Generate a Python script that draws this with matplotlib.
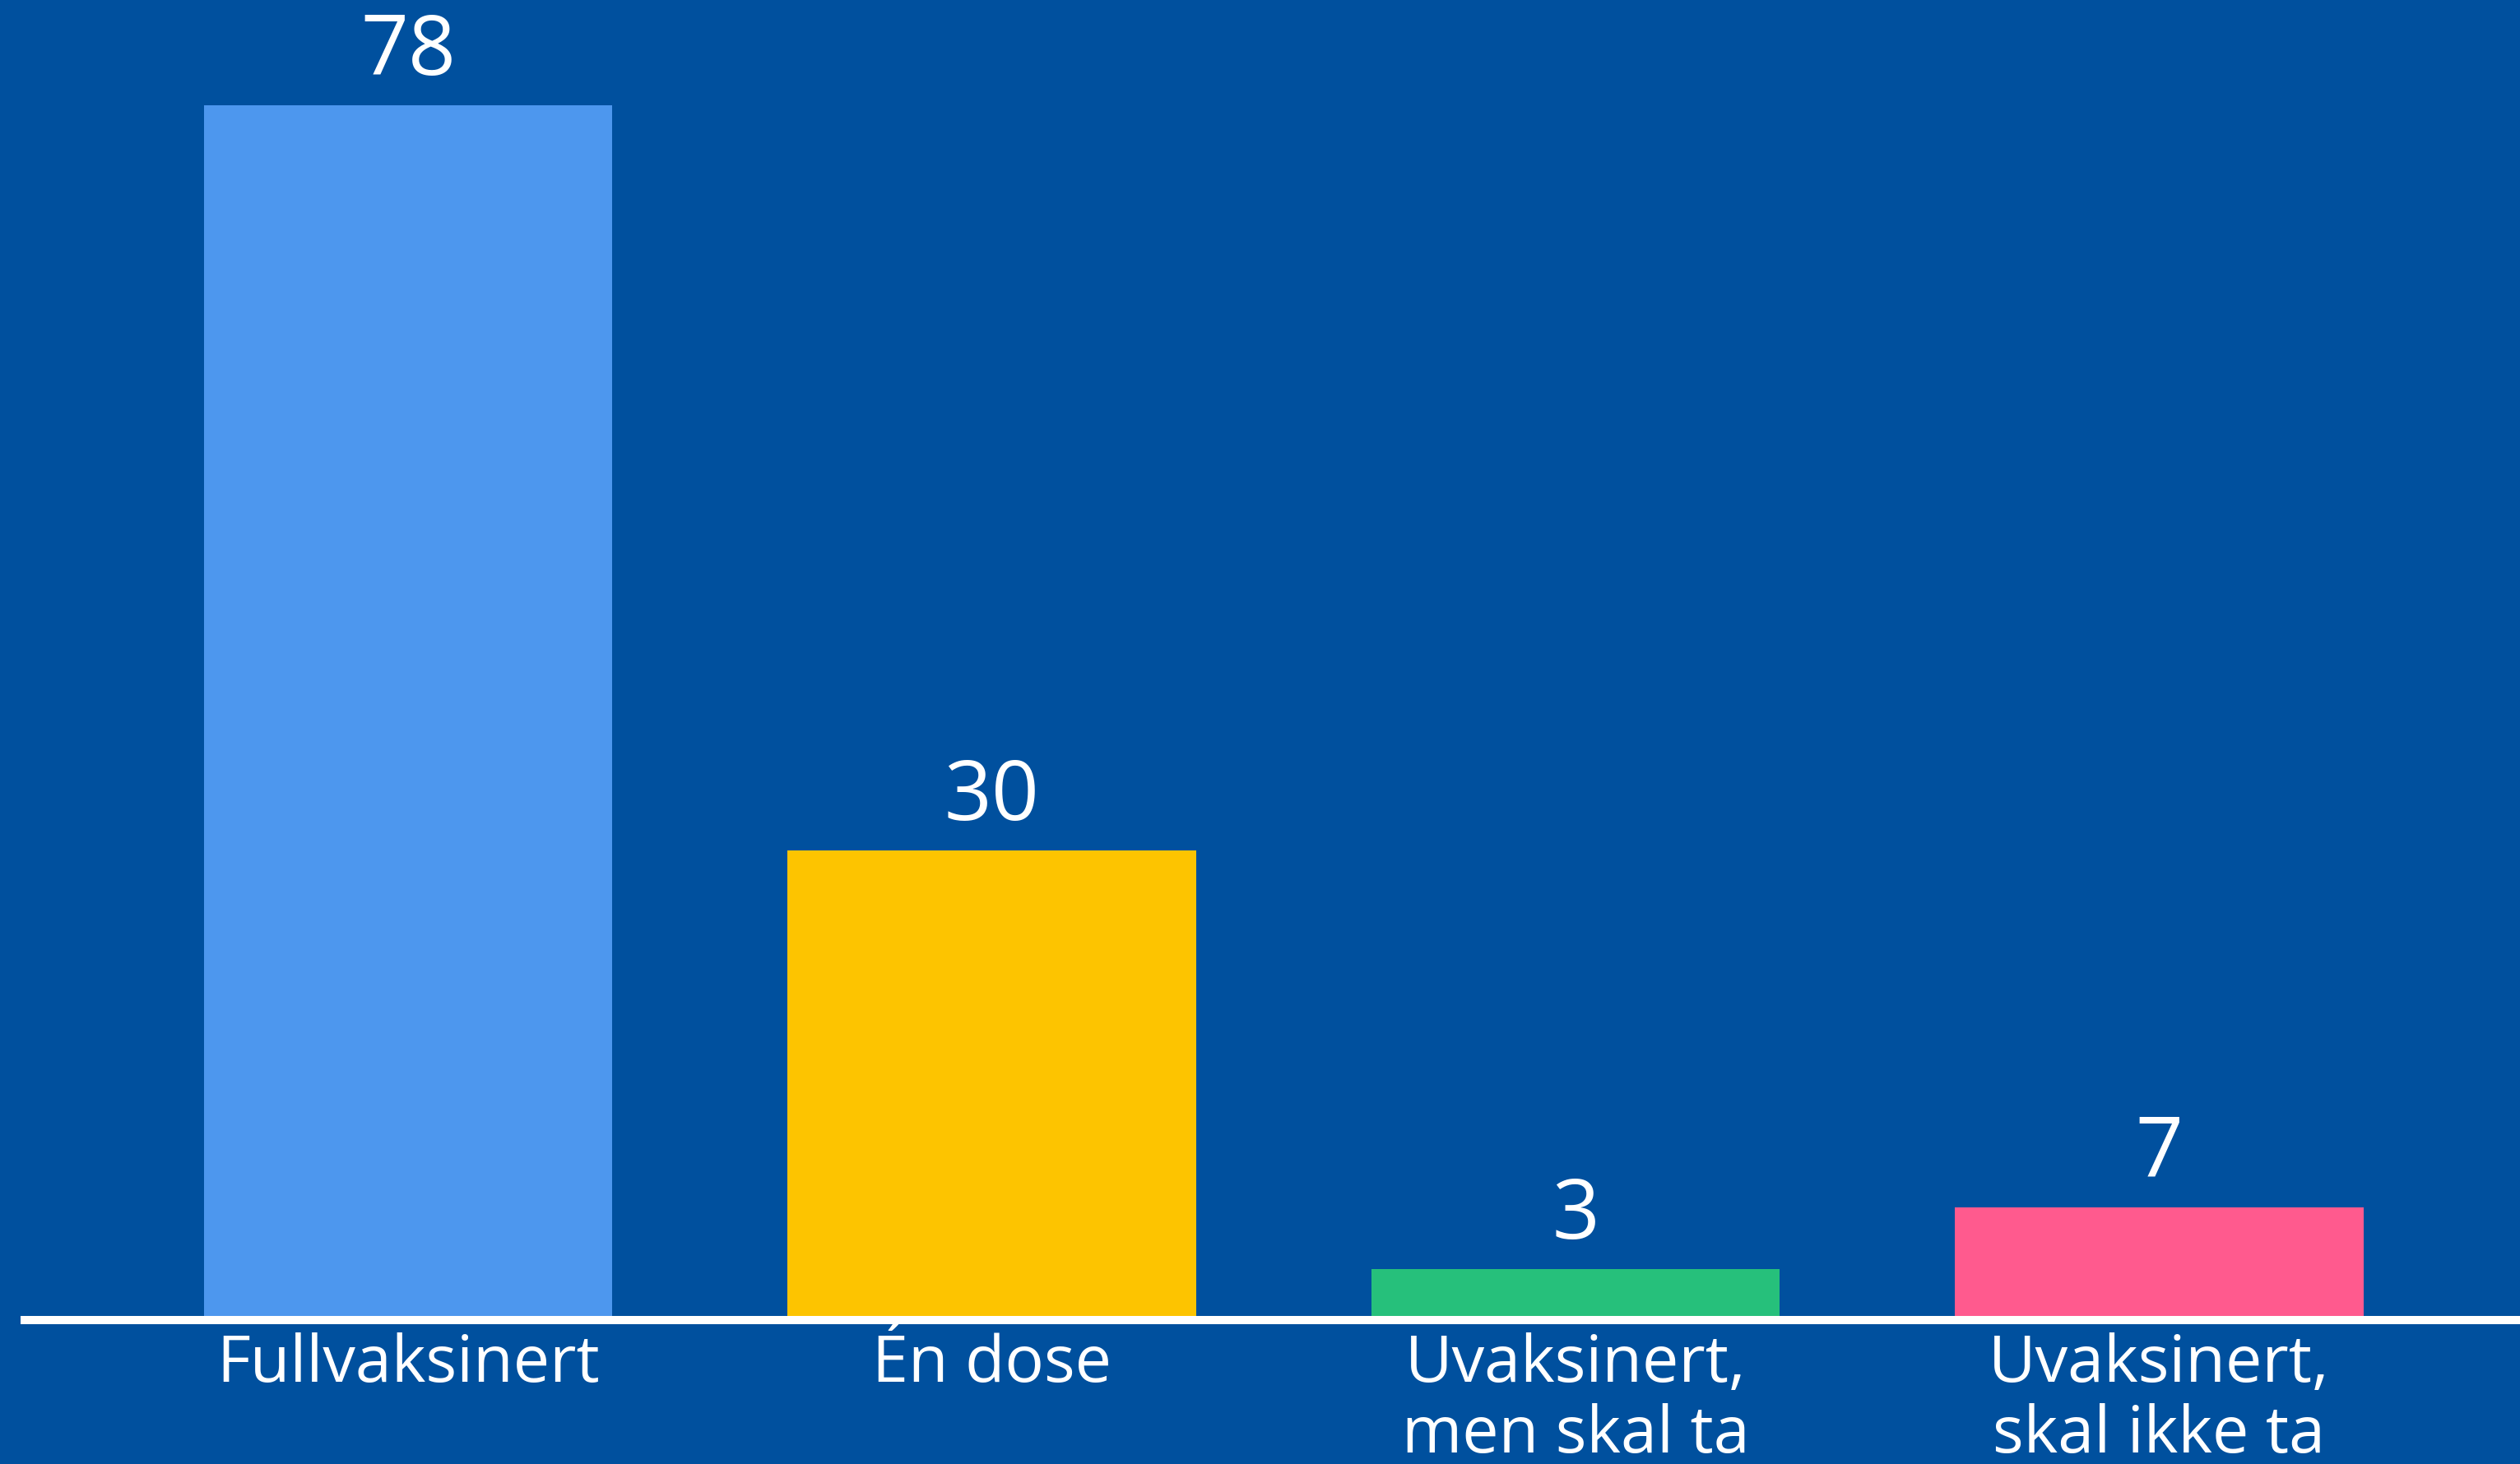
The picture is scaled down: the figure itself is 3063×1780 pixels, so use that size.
import matplotlib
matplotlib.use("Agg")
import matplotlib.pyplot as plt

categories = ["Fullvaksinert", "Én dose", "Uvaksinert,\nmen skal ta", "Uvaksinert,\nskal ikke ta"]
values = [78, 30, 3, 7]
bar_colors = ["#4D97EE", "#FDC400", "#26C07B", "#FF5A8E"]
bg = "#00509E"

plt.rcParams['font.family'] = ['Open Sans', 'DejaVu Sans']

fig = plt.figure(figsize=(30.63, 17.8), dpi=100, facecolor=bg)
# zero line sits 180 px above the bottom edge
ax = fig.add_axes([0, 180 / 1780, 1, 1600 / 1780])
ax.set_facecolor(bg)

x = range(len(values))
bars = ax.bar(x, values, width=0.7, color=bar_colors, zorder=2)

ppu = 1472 / 78  # pixels per unit
ax.set_ylim(0, 1600 / ppu)
ax.set_xlim(-496 / 709.5, (3063 - 496) / 709.5)

ax.axhline(-5 / ppu, xmin=30 / 3063, xmax=1, color="white", linewidth=7.2, zorder=3, clip_on=False)

for b, v in zip(bars, values):
    ax.text(b.get_x() + b.get_width() / 2, v + 37 / ppu, str(v), ha="center", va="baseline",
            color="white", fontsize=73)

for i, c in enumerate(categories):
    ax.text(i, -20 / ppu, c, ha="center", va="top", color="white", fontsize=57,
            linespacing=1.12)

ax.set_xticks([])
ax.set_yticks([])
for s in ax.spines.values():
    s.set_visible(False)

fig.savefig("out.png", dpi=100, facecolor=bg)
